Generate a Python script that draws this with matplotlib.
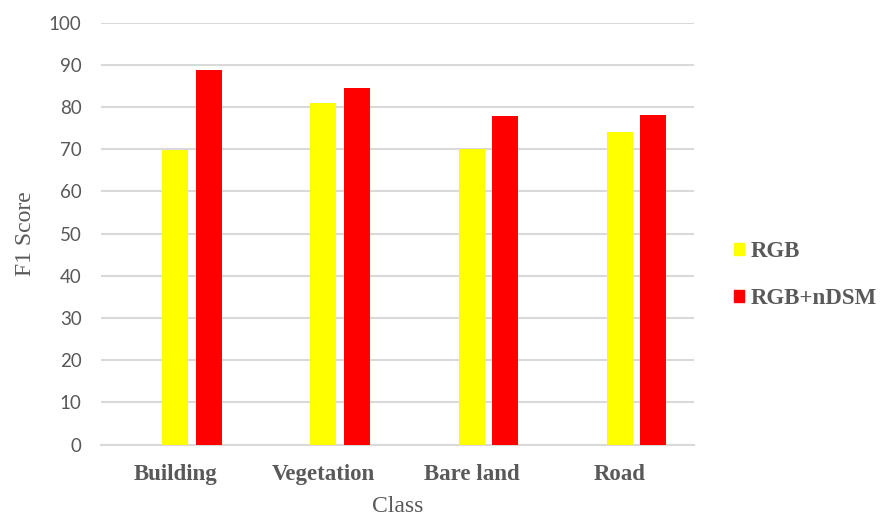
import numpy as np
import matplotlib.pyplot as plt
from matplotlib.patches import Patch

classes = ["Building", "Vegetation", "Bare land", "Road"]
rgb = [69.8, 80.9, 70.0, 74.2]
rgb_ndsm = [88.9, 84.5, 77.8, 78.1]

grey = "#595959"
serif = "Liberation Serif"

fig = plt.figure(figsize=(8.81, 5.16), dpi=100)
ax = fig.add_axes([101 / 881, 1 - 444.5 / 516, 593 / 881, (444.5 - 22.7) / 516])

x = np.arange(len(classes))
w = 0.174
ax.bar(x, rgb, width=w, color="#ffff00", zorder=3)
ax.bar(x + 0.226, rgb_ndsm, width=w, color="#ff0000", zorder=3)

ax.set_xlim(-0.5, 3.5)
ax.set_ylim(0, 100)
ax.set_yticks(range(0, 101, 10))
ax.set_xticks(x)
ax.set_xticklabels(classes, family=serif, fontweight="bold", fontsize=16.5, color=grey)
ax.tick_params(axis="x", length=0, pad=14)
ax.tick_params(axis="y", length=0, pad=14, labelsize=13.5, labelcolor=grey)
for lab in ax.get_yticklabels():
    lab.set_family("Lato")

ax.grid(axis="y", color="#d9d9d9", linewidth=1.5, zorder=0)
for side in ["top", "right", "left"]:
    ax.spines[side].set_visible(False)
ax.spines["bottom"].set_color("#d9d9d9")
ax.spines["bottom"].set_linewidth(1.5)

ax.set_xlabel("Class", family=serif, fontsize=17, color=grey, labelpad=8)
ax.set_ylabel("F1 Score", family=serif, fontsize=17, color=grey, labelpad=9)

handles = [Patch(color="#ffff00", label="RGB"), Patch(color="#ff0000", label="RGB+nDSM")]
fig.legend(handles=handles, loc="center left", bbox_to_anchor=(734 / 881, 1 - 275 / 516),
           frameon=False, handlelength=0.42, handleheight=0.42, handletextpad=0.3,
           labelspacing=1.15, borderaxespad=0, borderpad=0,
           prop={"family": serif, "weight": "bold", "size": 16.5},
           labelcolor=grey)

fig.savefig("out.png", dpi=100)
